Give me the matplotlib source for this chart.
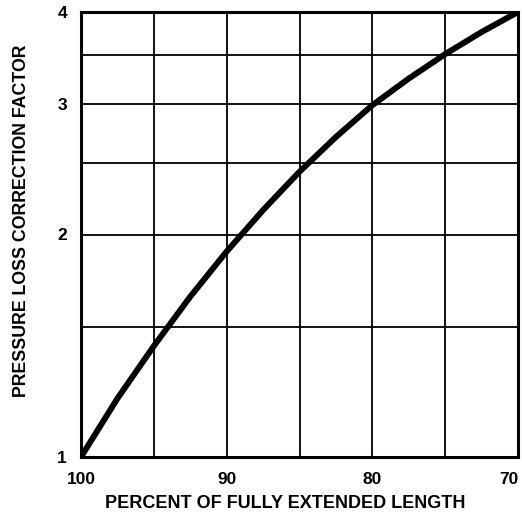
import matplotlib
matplotlib.use("Agg")
import matplotlib.pyplot as plt
from matplotlib.ticker import FixedLocator, NullFormatter

# ── Data ─────────────────────────────────────────────────────────────────────
percent_length = [100, 97.5, 95, 92.5, 90, 87.5, 85, 82.5, 80, 77.5, 75, 72.5, 70]
correction_factor = [1.0, 1.20, 1.413, 1.648, 1.897, 2.158, 2.432, 2.710, 2.992,
                     3.251, 3.508, 3.758, 4.0]

x_ticks = [100, 90, 80, 70]
x_grid = [100, 95, 90, 85, 80, 75, 70]
y_ticks = [1, 2, 3, 4]
y_grid_minor = [1.5, 2.5, 3.5]

x_label = "PERCENT OF FULLY EXTENDED LENGTH"
y_label = "PRESSURE LOSS CORRECTION FACTOR"

# ── Figure ───────────────────────────────────────────────────────────────────
plt.rcParams["font.family"] = ["Liberation Sans", "DejaVu Sans"]

fig = plt.figure(figsize=(5.22, 5.14), dpi=100)
ax = fig.add_axes([81 / 522, 1 - 457 / 514, 437 / 522, 445 / 514])

ax.plot(percent_length, correction_factor, color="black", lw=4.3,
        solid_capstyle="butt", solid_joinstyle="round", zorder=3)

ax.set_yscale("log")
ax.set_xlim(100, 70)
ax.set_ylim(1, 4)

ax.xaxis.set_major_locator(FixedLocator(x_grid))
ax.set_xticklabels([str(v) if v in x_ticks else "" for v in x_grid])
ax.yaxis.set_major_locator(FixedLocator(y_ticks))
ax.yaxis.set_minor_locator(FixedLocator(y_grid_minor))
ax.set_yticklabels([str(v) for v in y_ticks])
ax.yaxis.set_minor_formatter(NullFormatter())

ax.grid(True, which="both", color="black", lw=1.3)
ax.tick_params(which="both", length=0)
ax.tick_params(axis="x", pad=11, labelsize=12.5)
ax.tick_params(axis="y", pad=10, labelsize=12.5)
for lbl in ax.get_xticklabels() + ax.get_yticklabels():
    lbl.set_fontweight("bold")
# last x label sits at the right edge of the page; keep it inside
ax.get_xticklabels()[-1].set_horizontalalignment("right")

for sp in ax.spines.values():
    sp.set_linewidth(2.2)
    sp.set_color("black")

fig.text(285 / 522, 1 - 504 / 514, x_label, ha="center", va="center",
         fontsize=13, fontweight="bold")
fig.text(22 / 522, 1 - 221 / 514, y_label, ha="center", va="center",
         rotation=90, fontsize=12.8, fontweight="bold")

fig.savefig("out.png", dpi=100, facecolor="white")
